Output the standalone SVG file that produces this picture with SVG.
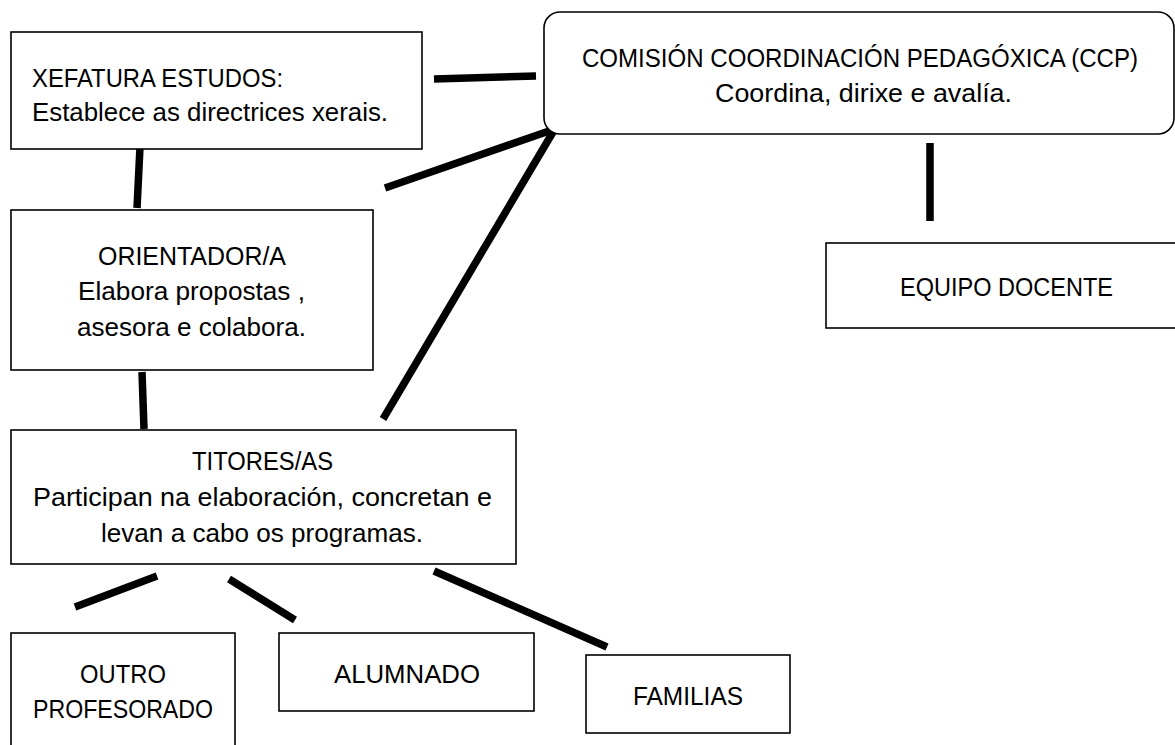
<svg xmlns="http://www.w3.org/2000/svg" width="1175" height="745" viewBox="0 0 1175 745">
<style>
.box{fill:#fff;stroke:#000;stroke-width:1.6}
.t{font-family:"Liberation Sans",Arial,sans-serif;font-size:25px;fill:#000}
.c{text-anchor:middle}
.conn line{stroke:#000;stroke-width:7.5;stroke-linecap:butt}
</style>
<rect width="1175" height="745" fill="#fff"/>
<g class="conn" id="connectors">
<line x1="434" y1="79" x2="536" y2="76"/>
<line x1="385" y1="188" x2="552" y2="130"/>
<line x1="383" y1="419" x2="553" y2="132"/>
<line x1="930" y1="143" x2="930" y2="221"/>
<line x1="140" y1="147" x2="137" y2="208"/>
<line x1="142" y1="372" x2="144" y2="429"/>
<line x1="157" y1="576" x2="75" y2="607"/>
<line x1="229" y1="579" x2="295" y2="620"/>
<line x1="434" y1="571" x2="607" y2="647"/>
</g>
<g id="xefatura">
<rect class="box" x="11" y="32" width="411" height="117"/>
<text class="t" x="32" y="87" textLength="251" lengthAdjust="spacingAndGlyphs">XEFATURA ESTUDOS:</text>
<text class="t" x="32" y="121" textLength="356" lengthAdjust="spacingAndGlyphs">Establece as directrices xerais.</text>
</g>
<g id="ccp">
<rect class="box" x="544" y="12" width="630" height="122" rx="16" ry="16"/>
<text class="t" x="582" y="67" textLength="556" lengthAdjust="spacingAndGlyphs">COMISIÓN COORDINACIÓN PEDAGÓXICA (CCP)</text>
<text class="t" x="715" y="102" textLength="297" lengthAdjust="spacingAndGlyphs">Coordina, dirixe e avalía.</text>
</g>
<g id="equipo">
<rect class="box" x="826" y="243" width="360" height="85"/>
<text class="t" x="900" y="296" textLength="213" lengthAdjust="spacingAndGlyphs">EQUIPO DOCENTE</text>
</g>
<g id="orientador">
<rect class="box" x="11" y="210" width="362" height="160"/>
<text class="t" x="98" y="265" textLength="188" lengthAdjust="spacingAndGlyphs">ORIENTADOR/A</text>
<text class="t" x="78" y="300" textLength="227" lengthAdjust="spacingAndGlyphs">Elabora propostas ,</text>
<text class="t" x="77" y="336" textLength="229" lengthAdjust="spacingAndGlyphs">asesora e colabora.</text>
</g>
<g id="titores">
<rect class="box" x="11" y="430" width="505" height="134"/>
<text class="t" x="192" y="470" textLength="141" lengthAdjust="spacingAndGlyphs">TITORES/AS</text>
<text class="t" x="33" y="506" textLength="459" lengthAdjust="spacingAndGlyphs">Participan na elaboración, concretan e</text>
<text class="t" x="101" y="542" textLength="322" lengthAdjust="spacingAndGlyphs">levan a cabo os programas.</text>
</g>
<g id="outro">
<rect class="box" x="11" y="633" width="224" height="130"/>
<text class="t" x="80" y="683" textLength="86" lengthAdjust="spacingAndGlyphs">OUTRO</text>
<text class="t" x="33" y="718" textLength="180" lengthAdjust="spacingAndGlyphs">PROFESORADO</text>
</g>
<g id="alumnado">
<rect class="box" x="279" y="633" width="255" height="78"/>
<text class="t" x="334" y="683" textLength="146" lengthAdjust="spacingAndGlyphs">ALUMNADO</text>
</g>
<g id="familias">
<rect class="box" x="586" y="655" width="204" height="78"/>
<text class="t" x="633" y="705" textLength="110" lengthAdjust="spacingAndGlyphs">FAMILIAS</text>
</g>
</svg>
